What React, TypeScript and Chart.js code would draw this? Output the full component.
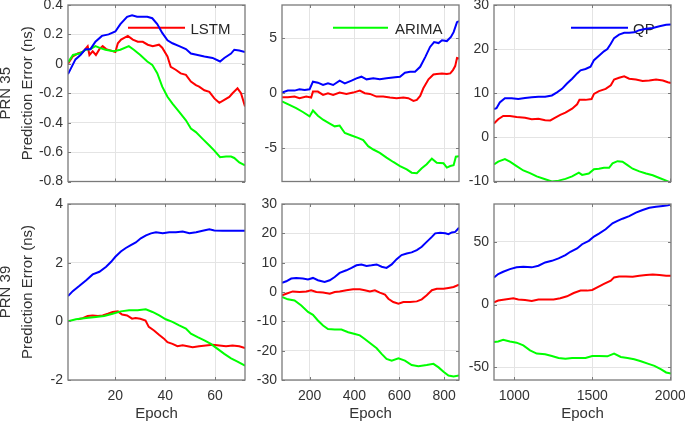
import React, { useEffect, useRef } from 'react';
import { Chart, registerables } from 'chart.js';
Chart.register(...registerables);

type P = [number, number];

// ---------- labels ----------
const xLabel = 'Epoch';
const rowTitles35 = ['PRN 35', 'Prediction Error (ns)'];
const rowTitles39 = ['PRN 39', 'Prediction Error (ns)'];
const seriesNames = ['QP', 'ARIMA', 'LSTM'];

// ---------- tick values ----------
const xTicksW1 = [20, 40, 60];
const xTicksW2 = [200, 400, 600, 800];
const xTicksW3 = [1000, 1500, 2000];
const yTicks35a = [-0.8, -0.6, -0.4, -0.2, 0, 0.2, 0.4];
const yTicks35b = [-5, 0, 5];
const yTicks35c = [-10, 0, 10, 20, 30];
const yTicks39a = [-2, 0, 2, 4];
const yTicks39b = [-30, -20, -10, 0, 10, 20, 30];
const yTicks39c = [-50, 0, 50];

// ---------- PRN 35, epochs 1-72 ----------
const prn35_w1_qp: P[] = [[1,-0.07],[4,0.03],[6,0.06],[8,0.1],[10,0.1],[12,0.15],[14.6,0.19],[17.3,0.2],[20,0.22],[22,0.27],[24.7,0.32],[26.7,0.33],[28.7,0.32],[30.8,0.32],[32.8,0.32],[34.8,0.31],[36.8,0.27],[38.8,0.21],[40.9,0.16],[42.9,0.14],[45.6,0.12],[48.3,0.1],[50.3,0.07],[53,0.06],[55.7,0.05],[59,0.04],[62,0.016],[63.7,0.04],[66.4,0.07],[67.7,0.096],[69.7,0.09],[72,0.08]];
const prn35_w1_lstm: P[] = [[1,0],[2.9,0.05],[4.9,0.07],[6.9,0.08],[8.9,0.12],[9.6,0.06],[10.9,0.085],[12.2,0.06],[13.6,0.1],[14.9,0.12],[16.3,0.1],[18.3,0.09],[20,0.08],[21,0.14],[22.3,0.165],[25,0.19],[27,0.165],[29,0.15],[31,0.15],[33,0.13],[35,0.12],[37.5,0.13],[38.8,0.11],[40.9,0.05],[42.2,-0.02],[44.2,-0.04],[46.2,-0.065],[48.3,-0.075],[50.3,-0.12],[52.3,-0.145],[53.6,-0.155],[55.7,-0.18],[57.7,-0.19],[59.7,-0.235],[61.7,-0.265],[63.7,-0.245],[65.7,-0.225],[67,-0.2],[69,-0.167],[70.4,-0.2],[72,-0.29]];
const prn35_w1_arima: P[] = [[1,0.01],[3,0.06],[5.6,0.07],[8,0.095],[10,0.1],[12,0.12],[14,0.107],[16,0.096],[19.3,0.085],[22,0.096],[25.4,0.12],[27.4,0.096],[30,0.06],[32.8,0.016],[34.8,-0.007],[36.8,-0.064],[38.8,-0.155],[40.9,-0.224],[42.9,-0.27],[45.6,-0.327],[48.3,-0.384],[50.3,-0.44],[52.3,-0.464],[55,-0.51],[57.7,-0.555],[59.7,-0.59],[62,-0.635],[64.4,-0.63],[66.4,-0.63],[67.7,-0.64],[69.7,-0.67],[72,-0.69]];

// ---------- PRN 35, epochs 77-866 ----------
const prn35_w2_qp: P[] = [[77,0.06],[103,0.24],[133,0.24],[155,0.36],[178,0.3],[200,0.36],[215,1.05],[237,0.96],[260,0.75],[282,0.9],[305,0.75],[334,1.14],[357,0.9],[387,1.14],[409,1.35],[431,1.5],[454,1.26],[484,1.35],[513,1.26],[543,1.35],[581,1.44],[603,1.5],[625,1.86],[648,1.95],[670,1.95],[693,2.4],[716,3.3],[737,4.2],[755,4.64],[775,4.55],[790,4.8],[812,4.73],[830,5.1],[842,5.54],[857,6.44],[866,6.53]];
const prn35_w2_lstm: P[] = [[77,-0.36],[103,-0.36],[133,-0.3],[155,-0.45],[185,-0.3],[207,-0.39],[215,0.15],[237,0.15],[260,-0.15],[282,0],[305,-0.15],[334,0.06],[364,-0.06],[394,0.06],[424,0.24],[446,0],[469,-0.06],[498,-0.3],[528,-0.3],[558,-0.39],[588,-0.45],[618,-0.39],[640,-0.45],[663,-0.69],[678,-0.6],[693,-0.24],[707,0.45],[730,1.26],[752,1.7],[767,1.74],[790,1.8],[812,1.74],[827,1.8],[839,2.1],[849,2.46],[857,3.2],[866,3.14]];
const prn35_w2_arima: P[] = [[77,-0.75],[110,-1.05],[140,-1.35],[170,-1.7],[200,-2.1],[215,-1.56],[237,-2.04],[260,-2.4],[290,-2.75],[312,-3.0],[334,-2.93],[357,-3.6],[387,-3.83],[416,-4.04],[439,-4.25],[461,-4.8],[484,-5.1],[513,-5.4],[543,-5.84],[573,-6.23],[603,-6.6],[633,-6.9],[655,-7.2],[678,-7.25],[700,-6.8],[722,-6.44],[745,-5.93],[767,-6.3],[797,-6.35],[812,-6.74],[827,-6.6],[842,-6.53],[852,-5.75],[866,-5.7]];

// ---------- PRN 35, epochs 870-2005 ----------
const prn35_w3_qp: P[] = [[870,6.4],[886,6.6],[907,7.9],[940,8.85],[983,8.85],[1026,8.7],[1069,8.9],[1112,9.1],[1155,9.2],[1198,9.2],[1241,9.5],[1274,10.2],[1306,11],[1338,12.2],[1371,13.3],[1403,14.5],[1425,15.2],[1457,15.5],[1489,16],[1511,17.5],[1543,18.5],[1575,19.5],[1597,20],[1619,21.2],[1640,22.5],[1672,23.3],[1705,23.7],[1737,23.7],[1769,23.8],[1802,24.3],[1845,24.6],[1888,24.8],[1931,25.2],[1974,25.5],[2005,25.6]];
const prn35_w3_lstm: P[] = [[870,3.15],[897,4.1],[929,4.85],[972,4.85],[1015,4.6],[1069,4.46],[1112,4.1],[1155,4.2],[1198,3.9],[1231,3.85],[1263,4.46],[1295,5.1],[1328,5.6],[1371,6.5],[1403,7.5],[1418,8.5],[1457,8.5],[1496,8.7],[1511,9.85],[1543,10.5],[1586,11],[1619,11.8],[1640,13.1],[1672,13.5],[1705,13.85],[1737,13.3],[1780,13.1],[1823,12.8],[1866,12.9],[1909,13.1],[1953,12.9],[1985,12.5],[2005,12.3]];
const prn35_w3_arima: P[] = [[870,-6.15],[897,-5.5],[940,-4.9],[972,-5.5],[1015,-6.5],[1058,-7.5],[1101,-8.1],[1144,-8.85],[1198,-9.5],[1241,-10],[1284,-9.8],[1328,-9.4],[1371,-8.85],[1414,-8],[1435,-8.5],[1478,-8.2],[1511,-7.2],[1543,-7.1],[1575,-6.9],[1608,-6.9],[1630,-5.9],[1662,-5.4],[1694,-5.5],[1726,-6.3],[1759,-7.1],[1802,-7.7],[1845,-8.2],[1888,-8.6],[1931,-9.2],[1974,-9.8],[2005,-10.3]];

// ---------- PRN 39, epochs 1-72 ----------
const prn39_w1_qp: P[] = [[1,0.86],[2.9,1.03],[5.6,1.21],[8.3,1.4],[10.9,1.6],[13.6,1.69],[16.3,1.86],[18.3,2.03],[20,2.2],[22.2,2.38],[24.2,2.5],[26.2,2.6],[28.2,2.69],[30.2,2.83],[32.3,2.93],[34.3,3.0],[36.3,3.04],[39,3.0],[41.6,3.04],[44.3,3.04],[47,3.06],[49.7,3.0],[52.4,3.04],[55,3.09],[57.7,3.14],[59.7,3.1],[63,3.09],[67,3.09],[72,3.09]];
const prn39_w1_lstm: P[] = [[4.9,0.07],[6.9,0.11],[8.9,0.18],[10.9,0.2],[13,0.18],[14.9,0.2],[17,0.26],[18.9,0.32],[21,0.34],[22.7,0.23],[24.7,0.2],[26.7,0.09],[28.1,0.11],[30,0.09],[32.1,0.03],[33.4,-0.19],[35.5,-0.31],[37.5,-0.46],[39.5,-0.59],[40.9,-0.71],[42.9,-0.77],[44.9,-0.85],[47,-0.82],[49,-0.85],[51,-0.88],[53.6,-0.85],[56.3,-0.82],[59,-0.8],[61.7,-0.82],[64.4,-0.85],[67,-0.82],[69.7,-0.85],[72,-0.91]];
const prn39_w1_arima: P[] = [[1,0],[4.2,0.07],[8.3,0.11],[12.2,0.15],[15.5,0.18],[18.9,0.26],[22.2,0.34],[25.5,0.38],[28.9,0.38],[32.2,0.41],[34.9,0.32],[37.6,0.2],[40.2,0.07],[42.9,-0.02],[45.6,-0.14],[48.3,-0.25],[50.3,-0.42],[53,-0.54],[55.7,-0.65],[58.3,-0.77],[61,-0.94],[63.7,-1.11],[66.4,-1.26],[69,-1.37],[72,-1.51]];

// ---------- PRN 39, epochs 77-866 ----------
const prn39_w2_qp: P[] = [[77,3.1],[96,3.65],[118,4.6],[140,4.8],[170,4.6],[193,4.3],[215,4.8],[237,4.0],[267,3.4],[290,4.0],[312,5.1],[334,6.5],[364,7.4],[387,8.2],[409,9.1],[431,9.4],[454,8.9],[476,9.1],[499,9.4],[521,8.6],[543,8.2],[566,9.4],[588,11.2],[610,12.6],[633,13.1],[655,13.5],[678,14.3],[700,15.4],[722,17.1],[745,18.8],[760,20],[782,20.2],[805,20],[819,19.7],[834,20.3],[849,20.5],[866,21.9]];
const prn39_w2_lstm: P[] = [[77,-1.1],[96,-0.6],[125,0.2],[155,0],[185,0.2],[207,0.6],[230,0],[260,-0.2],[290,-0.6],[312,0],[334,0.2],[364,0.6],[394,0.9],[424,0.9],[446,0.6],[469,0.2],[491,0.6],[513,-0.2],[536,-0.9],[551,-2.3],[573,-3.4],[596,-4.0],[618,-3.4],[648,-3.4],[678,-3.2],[700,-2.5],[722,-1.1],[745,0.6],[767,1.1],[797,1.1],[819,1.4],[842,1.7],[866,2.5]];
const prn39_w2_arima: P[] = [[77,-1.7],[103,-2.5],[133,-2.9],[163,-4.6],[193,-6.8],[215,-7.8],[237,-9.7],[260,-11.4],[282,-12.6],[312,-12.8],[342,-12.8],[372,-13.7],[402,-14.3],[424,-14.8],[446,-16],[469,-17.4],[499,-19.2],[521,-21.1],[543,-22.8],[566,-23.4],[596,-22.6],[625,-23.4],[655,-24.9],[685,-25.3],[722,-24.9],[752,-24.5],[775,-25.7],[797,-27.2],[819,-28.5],[842,-28.8],[866,-28.5]];

// ---------- PRN 39, epochs 870-2005 ----------
const prn39_w3_qp: P[] = [[870,21.6],[897,24.3],[929,26.1],[972,28.2],[1015,29.6],[1058,30.1],[1112,29.6],[1155,30.9],[1198,33.5],[1241,34.8],[1284,36.7],[1328,39.3],[1360,42],[1403,44.6],[1435,48],[1478,50.7],[1511,54.1],[1543,56.5],[1586,59.9],[1630,64.6],[1662,66.5],[1694,68.3],[1737,70.4],[1780,73.1],[1823,75.2],[1866,77],[1909,77.8],[1953,78.4],[1985,78.9],[2005,79.7]];
const prn39_w3_lstm: P[] = [[870,1.8],[897,3.2],[940,4],[994,5],[1026,4],[1069,3.7],[1112,2.9],[1155,4],[1198,4],[1252,4],[1295,5],[1338,6.6],[1381,9.2],[1425,11.1],[1468,11.1],[1500,11.6],[1532,13.7],[1575,16.4],[1619,19],[1640,21.6],[1672,22.4],[1716,22.4],[1759,22.2],[1802,23],[1845,23.5],[1888,24],[1931,23.5],[1974,23],[2005,23]];
const prn39_w3_arima: P[] = [[870,-29.8],[897,-29.3],[929,-28],[972,-29.3],[1015,-30.3],[1058,-32.5],[1101,-36.4],[1144,-39],[1198,-39.6],[1241,-40.9],[1284,-42.5],[1328,-43],[1371,-42.5],[1414,-42.5],[1457,-42.5],[1500,-40.9],[1543,-40.9],[1597,-41.2],[1640,-39],[1683,-41.7],[1726,-42.5],[1769,-43.5],[1812,-45.1],[1856,-47],[1899,-48.8],[1942,-51.5],[1974,-54],[2005,-54.9]];

// ---------- layout / styles ----------
const W = 685, H = 423;
const colLeft = [68, 282, 494];
const colRight = [245, 459, 671];
const rowTop = [5, 204];
const rowBottom = [181.5, 380];
const FONT = '"Liberation Sans", Arial, Helvetica, sans-serif';
const TEXT = '#333333';
const COLORS: Record<string, string> = { QP: '#0000ff', ARIMA: '#00ff00', LSTM: '#ff0000' };

type Panel = {
  row: number; col: number;
  qp: P[]; arima: P[]; lstm: P[];
  xMin: number; xMax: number; yMin: number; yMax: number;
  xTicks: number[]; yTicks: number[];
  legend?: { name: string; x1: number; x2: number; tx: number };
};

const panels: Panel[] = [
  { row: 0, col: 0, qp: prn35_w1_qp, arima: prn35_w1_arima, lstm: prn35_w1_lstm, xMin: 1, xMax: 72, yMin: -0.8, yMax: 0.4, xTicks: xTicksW1, yTicks: yTicks35a, legend: { name: 'LSTM', x1: 60, x2: 117, tx: 122.5 } },
  { row: 0, col: 1, qp: prn35_w2_qp, arima: prn35_w2_arima, lstm: prn35_w2_lstm, xMin: 77, xMax: 866, yMin: -8, yMax: 8, xTicks: xTicksW2, yTicks: yTicks35b, legend: { name: 'ARIMA', x1: 51, x2: 106, tx: 113 } },
  { row: 0, col: 2, qp: prn35_w3_qp, arima: prn35_w3_arima, lstm: prn35_w3_lstm, xMin: 870, xMax: 2005, yMin: -10, yMax: 30, xTicks: xTicksW3, yTicks: yTicks35c, legend: { name: 'QP', x1: 77, x2: 134, tx: 139 } },
  { row: 1, col: 0, qp: prn39_w1_qp, arima: prn39_w1_arima, lstm: prn39_w1_lstm, xMin: 1, xMax: 72, yMin: -2, yMax: 4, xTicks: xTicksW1, yTicks: yTicks39a },
  { row: 1, col: 1, qp: prn39_w2_qp, arima: prn39_w2_arima, lstm: prn39_w2_lstm, xMin: 77, xMax: 866, yMin: -30, yMax: 30, xTicks: xTicksW2, yTicks: yTicks39b },
  { row: 1, col: 2, qp: prn39_w3_qp, arima: prn39_w3_arima, lstm: prn39_w3_lstm, xMin: 870, xMax: 2005, yMin: -60, yMax: 80, xTicks: xTicksW3, yTicks: yTicks39c },
];

const fmt = (v: number) => String(Number(Number(v).toFixed(2)));

const framePlugin = {
  id: 'frame',
  beforeDatasetsDraw(chart: any, _a: any, opts: any) {
    const lg = opts && opts.legend;
    if (!lg) return;
    const { ctx, chartArea: a } = chart;
    ctx.save();
    ctx.strokeStyle = COLORS[lg.name];
    ctx.lineWidth = 2;
    ctx.beginPath();
    ctx.moveTo(a.left + lg.x1, a.top + 22.7);
    ctx.lineTo(a.left + lg.x2, a.top + 22.7);
    ctx.stroke();
    ctx.fillStyle = '#262626';
    ctx.font = `15px ${FONT}`;
    ctx.textBaseline = 'middle';
    ctx.textAlign = 'left';
    ctx.fillText(lg.name, a.left + lg.tx, a.top + 24.5);
    ctx.restore();
  },
  afterDraw(chart: any) {
    const { ctx, chartArea: a, scales } = chart;
    ctx.save();
    ctx.strokeStyle = '#7a7a7a';
    ctx.lineWidth = 1;
    ctx.beginPath();
    const tl = 3;
    scales.x.ticks.forEach((t: any) => {
      const px = Math.round(scales.x.getPixelForValue(t.value)) + 0.5;
      ctx.moveTo(px, a.bottom); ctx.lineTo(px, a.bottom - tl);
      ctx.moveTo(px, a.top); ctx.lineTo(px, a.top + tl);
    });
    scales.y.ticks.forEach((t: any) => {
      const py = Math.round(scales.y.getPixelForValue(t.value)) + 0.5;
      ctx.moveTo(a.left, py); ctx.lineTo(a.left + tl, py);
      ctx.moveTo(a.right, py); ctx.lineTo(a.right - tl, py);
    });
    ctx.stroke();
    ctx.lineWidth = 1.3;
    ctx.strokeRect(a.left, a.top, a.right - a.left, a.bottom - a.top);
    ctx.restore();
  },
};

function buildConfig(p: Panel): any {
  const left = colLeft[p.col], right = colRight[p.col];
  const top = rowTop[p.row], bottom = rowBottom[p.row];
  const yW = p.col === 0 ? left : 40;
  const xH = p.row === 1 ? H - bottom : 20;
  const padding = { left: left - yW, right: W - right, top, bottom: H - bottom - xH };
  const mk = (name: string, pts: P[]) => ({
    label: name,
    data: pts.map(([x, y]) => ({ x, y })),
    borderColor: COLORS[name],
    backgroundColor: COLORS[name],
    borderWidth: 2,
    pointRadius: 0,
    tension: 0,
    fill: false,
  });
  const seriesData: Record<string, P[]> = { QP: p.qp, ARIMA: p.arima, LSTM: p.lstm };
  const zeroPad = (s: any) => { s.paddingLeft = 0; s.paddingRight = 0; s.paddingTop = 0; s.paddingBottom = 0; };
  return {
    type: 'line',
    data: { datasets: seriesNames.map((n) => mk(n, seriesData[n])) },
    plugins: [framePlugin],
    options: {
      animation: false,
      responsive: false,
      events: [],
      layout: { padding },
      plugins: { legend: { display: false }, tooltip: { enabled: false }, title: { display: false }, frame: { legend: p.legend } },
      scales: {
        x: {
          type: 'linear', min: p.xMin, max: p.xMax,
          afterBuildTicks: (s: any) => { s.ticks = p.xTicks.map((v) => ({ value: v })); },
          afterFit: (s: any) => { s.height = xH; zeroPad(s); },
          grid: { color: '#e4e4e4', lineWidth: 1, drawTicks: false },
          border: { display: false },
          ticks: { display: p.row === 1, padding: 8, color: TEXT, font: { family: FONT, size: 14 }, maxRotation: 0, autoSkip: false, callback: (v: number) => fmt(v) },
          title: { display: p.row === 1, text: xLabel, color: TEXT, font: { family: FONT, size: 15, lineHeight: 1.2 }, padding: { top: 0, bottom: 0 } },
        },
        y: {
          type: 'linear', min: p.yMin, max: p.yMax,
          afterBuildTicks: (s: any) => { s.ticks = p.yTicks.map((v) => ({ value: v })); },
          afterFit: (s: any) => { s.width = yW; zeroPad(s); },
          grid: { color: '#e4e4e4', lineWidth: 1, drawTicks: false },
          border: { display: false },
          ticks: { padding: 5, color: TEXT, font: { family: FONT, size: 14 }, autoSkip: false, callback: (v: number) => fmt(v) },
          title: { display: p.col === 0, text: p.row === 0 ? rowTitles35 : rowTitles39, color: TEXT, font: { family: FONT, size: 15, lineHeight: 22 / 15 }, padding: { top: -5, bottom: 0 } },
        },
      },
    },
  };
}

function PanelCanvas({ p }: { p: Panel }) {
  const ref = useRef<HTMLCanvasElement | null>(null);
  useEffect(() => {
    if (!ref.current) return;
    const chart = new Chart(ref.current, buildConfig(p));
    return () => chart.destroy();
  }, [p]);
  return <canvas ref={ref} width={W} height={H} style={{ position: 'absolute', left: 0, top: 0, width: W, height: H }} />;
}

export default function App() {
  useEffect(() => {
    document.body.style.margin = '0';
    document.body.style.background = '#ffffff';
  }, []);
  return (
    <div style={{ position: 'relative', width: W, height: H, background: '#ffffff', overflow: 'hidden' }}>
      {panels.map((p, i) => (
        <PanelCanvas key={i} p={p} />
      ))}
    </div>
  );
}
